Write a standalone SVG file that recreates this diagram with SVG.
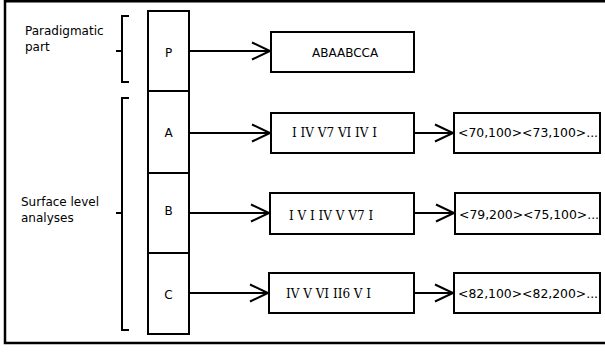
<svg xmlns="http://www.w3.org/2000/svg" width="605" height="352" viewBox="0 0 605 352">
<defs>
<style>
.box{fill:#fff;stroke:#000;stroke-width:2}
.ln{fill:none;stroke:#000;stroke-width:2}
.sans{font-family:"DejaVu Sans","Verdana",sans-serif;font-size:12px;fill:#000}
.notes{font-family:"DejaVu Sans","Verdana",sans-serif;font-size:12.4px;fill:#000}
.serif{font-family:"DejaVu Serif",serif;font-size:12px;fill:#000}
</style>
<marker id="arr" markerUnits="userSpaceOnUse" markerWidth="22" markerHeight="22" refX="18" refY="8.5" orient="auto" overflow="visible">
<path d="M0,0 L18,8.5 L0,17" fill="none" stroke="#000" stroke-width="2"/>
</marker>
</defs>
<rect width="605" height="352" fill="#fff"/>
<path d="M605,1.2 H5 V343 H605" fill="none" stroke="#000" stroke-width="2.5"/>

<g id="labels">
<text class="sans" x="25" y="35">Paradigmatic</text>
<text class="sans" x="25" y="51">part</text>
<text class="sans" x="21" y="206">Surface level</text>
<text class="sans" x="21" y="222">analyses</text>
</g>
<g id="braces">
<path class="ln" d="M129,16 H122 V82 H129 M116,51 H122"/>
<path class="ln" d="M129,98 H122 V330 H129 M116,213 H122"/>
</g>

<g id="nodeP"><rect class="box" x="148" y="11" width="41" height="80"/><text class="sans" x="168.5" y="57" text-anchor="middle">P</text></g>
<g id="nodeA"><rect class="box" x="148" y="91" width="41" height="82"/><text class="sans" x="168.5" y="137" text-anchor="middle">A</text></g>
<g id="nodeB"><rect class="box" x="148" y="173" width="41" height="80"/><text class="sans" x="168.5" y="215" text-anchor="middle">B</text></g>
<g id="nodeC"><rect class="box" x="148" y="253" width="41" height="81"/><text class="sans" x="168.5" y="299" text-anchor="middle">C</text></g>

<g id="seqP"><rect class="box" x="271" y="32" width="143" height="40"/><text class="sans" x="312" y="57">ABAABCCA</text></g>
<g id="harmA"><rect class="box" x="271" y="113" width="143" height="40"/><text class="serif" x="292" y="137">I IV V7 VI IV I</text></g>
<g id="harmB"><rect class="box" x="270" y="193" width="144" height="41"/><text class="serif" x="289" y="220">I V I IV V V7 I</text></g>
<g id="harmC"><rect class="box" x="269" y="273" width="145" height="40"/><text class="serif" x="286" y="298">IV V VI II6 V I</text></g>

<g id="notesA"><rect class="box" x="454" y="113" width="146" height="40"/><text class="notes" x="458" y="137">&lt;70,100&gt;&lt;73,100&gt;...</text></g>
<g id="notesB"><rect class="box" x="455" y="193" width="145" height="41"/><text class="notes" x="459" y="219">&lt;79,200&gt;&lt;75,100&gt;...</text></g>
<g id="notesC"><rect class="box" x="454" y="273" width="146" height="40"/><text class="notes" x="458" y="298">&lt;82,100&gt;&lt;82,200&gt;...</text></g>

<g id="connectors">
<path class="ln" d="M189,51 H270" marker-end="url(#arr)"/>
<path class="ln" d="M189,133 H270" marker-end="url(#arr)"/>
<path class="ln" d="M189,213 H269" marker-end="url(#arr)"/>
<path class="ln" d="M189,293 H268" marker-end="url(#arr)"/>
<path class="ln" d="M414,133 H453" marker-end="url(#arr)"/>
<path class="ln" d="M414,213 H454" marker-end="url(#arr)"/>
<path class="ln" d="M414,293 H453" marker-end="url(#arr)"/>
</g>
</svg>
